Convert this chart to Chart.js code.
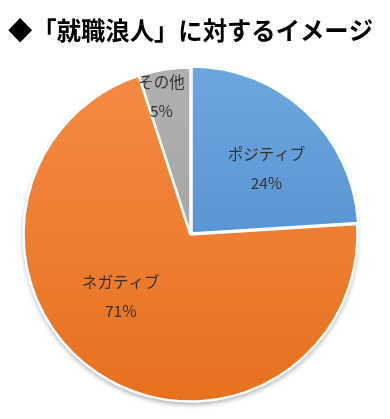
<!DOCTYPE html>
<html>
<head>
<meta charset="utf-8">
<script src="https://cdn.jsdelivr.net/npm/chart.js@4.4.1/dist/chart.umd.min.js"></script>
<style>
html,body{margin:0;padding:0;background:#fff;}
#wrap{width:390px;height:419px;position:relative;}
</style>
</head>
<body>
<div id="wrap"><canvas id="c" width="390" height="419"></canvas></div>
<script>
const titleText = '◆「就職浪人」に対するイメージ';
const categories = ['ポジティブ', 'ネガティブ', 'その他'];
const values = [24, 71, 5];
const valueLabels = ['24%', '71%', '5%'];

const gradStops = [
  ['#6DA7E0', '#4884C7'],
  ['#F58B44', '#E6711F'],
  ['#B0B0B0', '#9C9C9C']
];
// label anchor: fraction along the slice angle, fraction of radius
const labelPlace = [
  {t: 0.57, r: 0.60},
  {t: 0.555, r: 0.56},
  {t: 0.34, r: 0.845}
];

function bg(ctx) {
  const chart = ctx.chart;
  const ca = chart.chartArea;
  const i = ctx.dataIndex;
  if (!ca) return gradStops[i][0];
  const cy = (ca.top + ca.bottom) / 2;
  const g = chart.ctx.createLinearGradient(0, cy - 167, 0, cy + 167);
  g.addColorStop(0, gradStops[i][0]);
  g.addColorStop(1, gradStops[i][1]);
  return g;
}

const shadowPlugin = {
  id: 'pieShadow',
  beforeDatasetsDraw(chart) {
    const arc = chart.getDatasetMeta(0).data[0];
    if (!arc) return;
    const ctx = chart.ctx;
    ctx.save();
    ctx.shadowColor = 'rgba(0,0,0,0.35)';
    ctx.shadowBlur = 5;
    ctx.shadowOffsetY = 3;
    ctx.fillStyle = '#ffffff';
    ctx.beginPath();
    ctx.arc(arc.x, arc.y, arc.outerRadius, 0, Math.PI * 2);
    ctx.fill();
    ctx.restore();
  }
};

const labelPlugin = {
  id: 'sliceLabels',
  afterDatasetsDraw(chart) {
    const meta = chart.getDatasetMeta(0);
    const ctx = chart.ctx;
    ctx.save();
    ctx.fillStyle = '#333333';
    ctx.font = '15.5px "Noto Sans CJK JP", "Noto Sans", sans-serif';
    ctx.textAlign = 'center';
    ctx.textBaseline = 'middle';
    meta.data.forEach((arc, i) => {
      const p = labelPlace[i];
      const a = arc.startAngle + p.t * (arc.endAngle - arc.startAngle);
      const r = arc.outerRadius * p.r;
      const x = arc.x + Math.cos(a) * r;
      const y = arc.y + Math.sin(a) * r;
      ctx.fillText(chart.data.labels[i], x, y - 14.5);
      ctx.fillText(valueLabels[i], x, y + 14.5);
    });
    ctx.restore();
  }
};

new Chart(document.getElementById('c'), {
  type: 'pie',
  data: {
    labels: categories,
    datasets: [{
      data: values,
      backgroundColor: bg,
      borderColor: '#ffffff',
      borderWidth: 2.5,
      offset: [6, 0, 0]
    }]
  },
  options: {
    responsive: false,
    animation: false,
    radius: 167,
    layout: {padding: {left: 8, right: 17, top: 0, bottom: 0}},
    plugins: {
      legend: {display: false},
      tooltip: {enabled: false},
      title: {
        display: true,
        text: titleText,
        align: 'start',
        color: '#000000',
        font: {family: '"Noto Sans CJK JP", sans-serif', size: 25, weight: 'bold', lineHeight: 1.2},
        padding: {top: 15, bottom: 5}
      }
    }
  },
  plugins: [shadowPlugin, labelPlugin]
});
</script>
</body>
</html>
